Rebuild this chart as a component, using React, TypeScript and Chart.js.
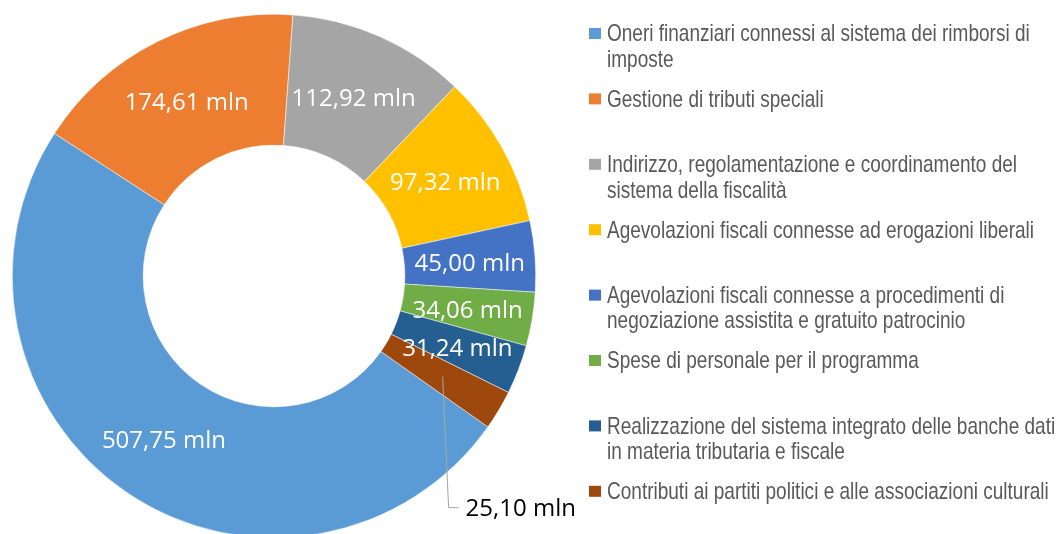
import React, { useEffect, useRef } from "react";
import { Chart, registerables } from "chart.js";

Chart.register(...registerables);

const categories: string[][] = [
  ["Oneri finanziari connessi al sistema dei rimborsi di", "imposte"],
  ["Gestione di tributi speciali"],
  ["Indirizzo, regolamentazione e coordinamento del", "sistema della fiscalità"],
  ["Agevolazioni fiscali connesse ad erogazioni liberali"],
  ["Agevolazioni fiscali connesse a procedimenti di", "negoziazione assistita e gratuito patrocinio"],
  ["Spese di personale per il programma"],
  ["Realizzazione del sistema integrato delle banche dati", "in materia tributaria e fiscale"],
  ["Contributi ai partiti politici e alle associazioni culturali"],
];

const values: number[] = [507.75, 174.61, 112.92, 97.32, 45.0, 34.06, 31.24, 25.1];

const colors: string[] = [
  "#5B9BD5",
  "#ED7D31",
  "#A5A5A5",
  "#FFC000",
  "#4472C4",
  "#70AD47",
  "#255E91",
  "#9E480E",
];

const unit = "mln";

const fmt = (v: number) => v.toFixed(2).replace(".", ",") + " " + unit;

const LABEL_FONT = '24px "Open Sans", sans-serif';
const LEGEND_FONT = '23.2px "Liberation Sans", Arial, sans-serif';
const LEGEND_SQUEEZE = 0.82;

const sliceLabels = {
  id: "sliceLabels",
  afterDatasetsDraw(chart: any) {
    const ctx = chart.ctx;
    const meta = chart.getDatasetMeta(0);
    const data = chart.data.datasets[0].data as number[];
    const total = data.reduce((a, b) => a + b, 0);
    ctx.save();
    ctx.font = LABEL_FONT;
    ctx.textBaseline = "middle";
    meta.data.forEach((arc: any, i: number) => {
      const p = arc.tooltipPosition(false);
      const text = fmt(data[i]);
      if (data[i] / total < 0.027) {
        const endY = arc.y + arc.outerRadius * 0.885;
        const endX = p.x + 6;
        ctx.strokeStyle = "#A6A6A6";
        ctx.lineWidth = 1;
        ctx.beginPath();
        ctx.moveTo(p.x, p.y);
        ctx.lineTo(endX, endY);
        ctx.lineTo(endX + 10, endY);
        ctx.stroke();
        ctx.fillStyle = "#000000";
        ctx.textAlign = "left";
        ctx.fillText(text, endX + 17, endY + 2);
      } else {
        ctx.fillStyle = "#FFFFFF";
        ctx.textAlign = "center";
        ctx.fillText(text, p.x, p.y + 3);
      }
    });
    ctx.restore();
  },
};

const sideLegend = {
  id: "sideLegend",
  afterDraw(chart: any) {
    const ctx = chart.ctx;
    const labels = chart.data.labels as string[][];
    const bg = chart.data.datasets[0].backgroundColor as string[];
    const x0 = 589;
    const top = 34;
    const step = 65.4;
    const lineH = 25.5;
    ctx.save();
    ctx.font = LEGEND_FONT;
    ctx.textBaseline = "middle";
    ctx.textAlign = "left";
    labels.forEach((lines, i) => {
      const y = top + i * step;
      ctx.fillStyle = bg[i];
      ctx.fillRect(x0, y - 6, 12, 11);
      ctx.fillStyle = "#595959";
      lines.forEach((ln, j) => {
        ctx.save();
        ctx.translate(x0 + 18, y + 1 + j * lineH);
        ctx.scale(LEGEND_SQUEEZE, 1);
        ctx.fillText(ln, 0, 0);
        ctx.restore();
      });
    });
    ctx.restore();
  },
};

export default function App() {
  const ref = useRef<HTMLCanvasElement>(null);
  useEffect(() => {
    if (!ref.current) return;
    const chart = new Chart(ref.current, {
      type: "doughnut",
      data: {
        labels: categories,
        datasets: [
          {
            data: values,
            backgroundColor: colors,
            borderColor: "#FFFFFF",
            borderWidth: 0.5,
          },
        ],
      },
      options: {
        animation: false,
        responsive: true,
        maintainAspectRatio: false,
        rotation: 125.2,
        cutout: "50%",
        layout: { padding: { left: 12, top: 14, right: 523, bottom: 14 } },
        plugins: {
          legend: { display: false },
          tooltip: { enabled: false },
        },
      },
      plugins: [sliceLabels, sideLegend],
    });
    return () => chart.destroy();
  }, []);
  return (
    <div
      style={{
        position: "absolute",
        left: 0,
        top: 0,
        width: 1059,
        height: 534,
        overflow: "hidden",
        background: "#FFFFFF",
      }}
    >
      <div style={{ position: "relative", width: 1059, height: 552 }}>
        <canvas ref={ref} />
      </div>
    </div>
  );
}
